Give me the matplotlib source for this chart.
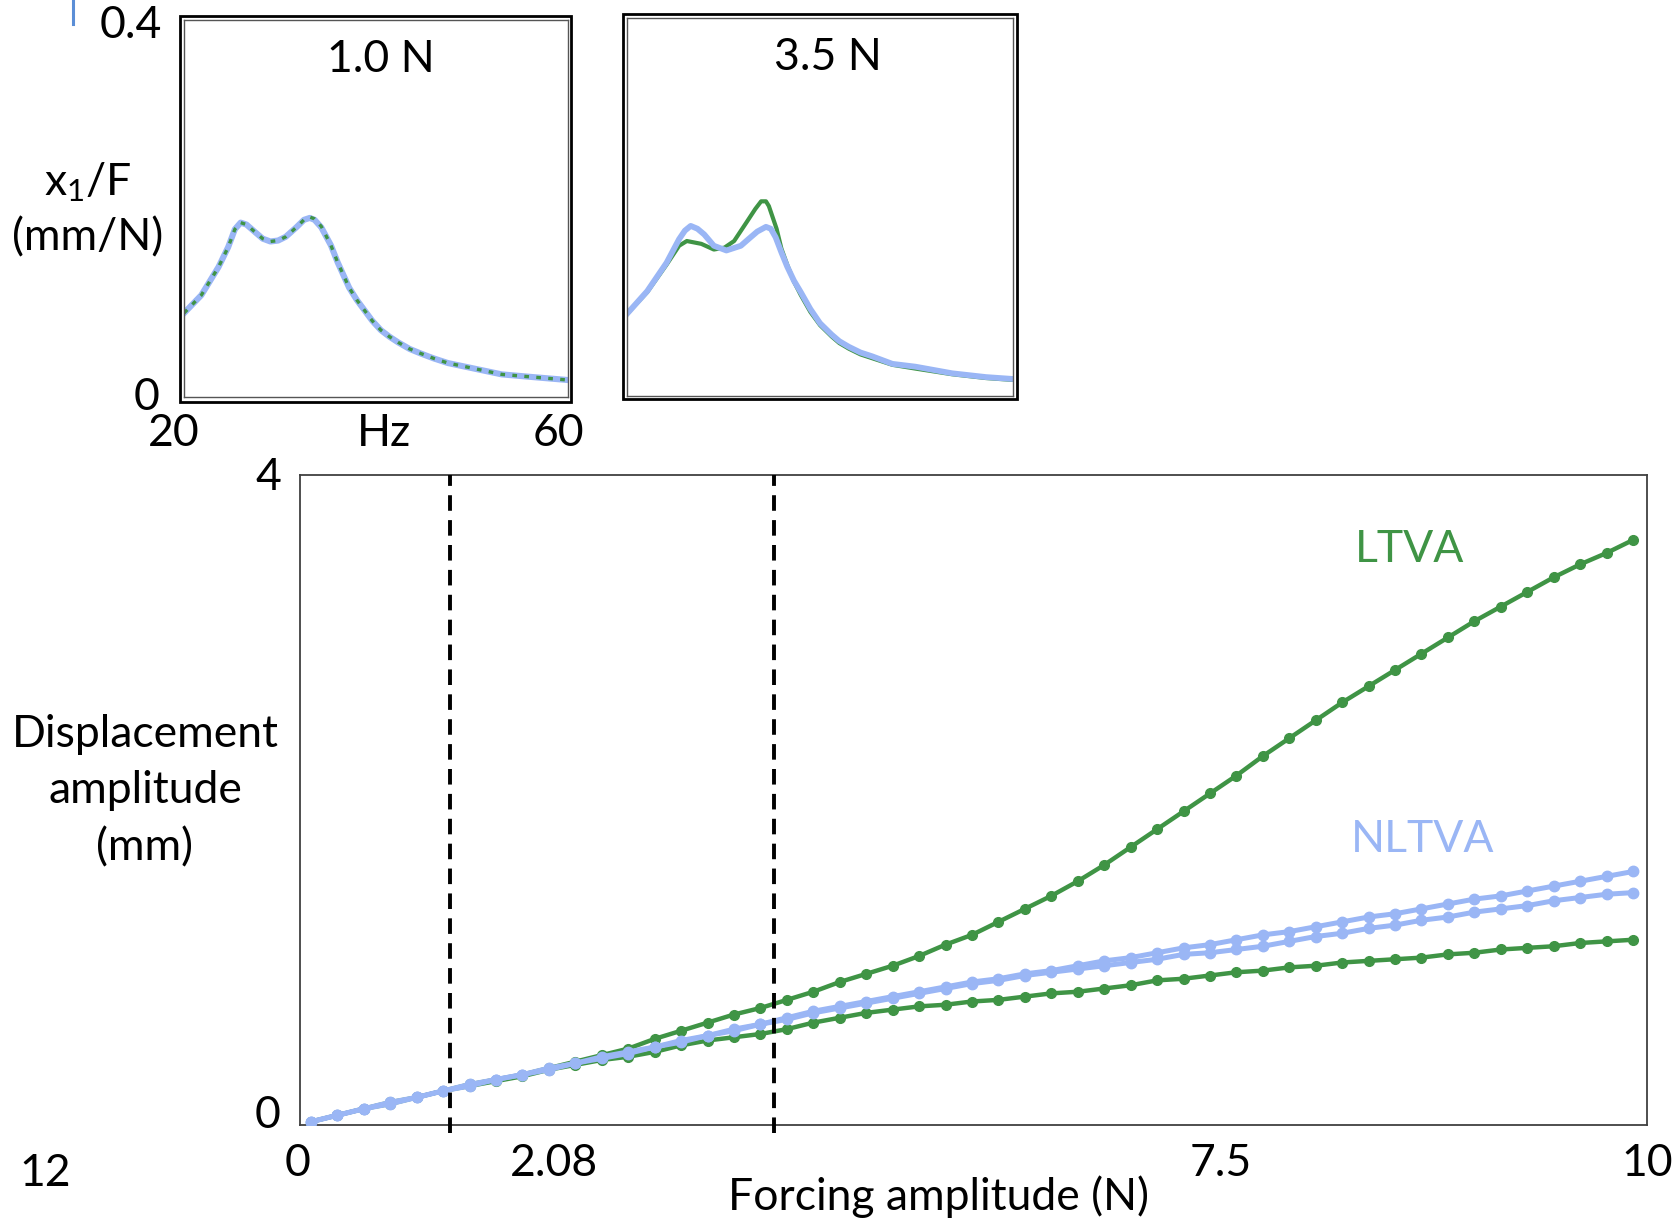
import numpy as np
import matplotlib
matplotlib.use("Agg")
import matplotlib.pyplot as plt
from matplotlib.patches import Rectangle
from matplotlib.lines import Line2D

plt.rcParams["font.family"] = ["Lato", "DejaVu Sans"]
plt.rcParams["mathtext.fontset"] = "custom"
plt.rcParams["mathtext.rm"] = "Lato"
plt.rcParams["mathtext.it"] = "Lato"

# ── data ──────────────────────────────────────────────────────────────────────
# main panel: forcing sweep (N) vs displacement amplitude (mm)
force = [0.0, 0.2, 0.4, 0.6, 0.8, 1.0, 1.2, 1.4, 1.6, 1.8,
         2.0, 2.2, 2.4, 2.6, 2.8, 3.0, 3.2, 3.4, 3.6, 3.8,
         4.0, 4.2, 4.4, 4.6, 4.8, 5.0, 5.2, 5.4, 5.6, 5.8,
         6.0, 6.2, 6.4, 6.6, 6.8, 7.0, 7.2, 7.4, 7.6, 7.8,
         8.0, 8.2, 8.4, 8.6, 8.8, 9.0, 9.2, 9.4, 9.6, 9.8, 10.0]

ltva_up = [0.02, 0.06, 0.10, 0.14, 0.17, 0.21, 0.25, 0.28, 0.31, 0.35,
           0.39, 0.43, 0.47, 0.53, 0.58, 0.63, 0.68, 0.72, 0.77, 0.82,
           0.88, 0.93, 0.98, 1.04, 1.11, 1.17, 1.25, 1.33, 1.41, 1.50,
           1.60, 1.71, 1.82, 1.93, 2.04, 2.15, 2.27, 2.38, 2.49, 2.60,
           2.70, 2.80, 2.90, 3.00, 3.10, 3.19, 3.28, 3.37, 3.45, 3.52, 3.60]

ltva_low = [0.02, 0.06, 0.10, 0.13, 0.17, 0.21, 0.24, 0.27, 0.30, 0.34,
            0.37, 0.40, 0.42, 0.45, 0.49, 0.52, 0.54, 0.56, 0.59, 0.63,
            0.66, 0.69, 0.71, 0.73, 0.74, 0.76, 0.77, 0.79, 0.81, 0.82,
            0.84, 0.86, 0.89, 0.90, 0.92, 0.94, 0.95, 0.97, 0.98, 1.00,
            1.01, 1.02, 1.03, 1.05, 1.06, 1.08, 1.09, 1.10, 1.12, 1.13, 1.14]

nltva_up = [0.02, 0.06, 0.10, 0.14, 0.17, 0.21, 0.25, 0.28, 0.31, 0.35,
            0.38, 0.42, 0.45, 0.48, 0.52, 0.55, 0.59, 0.62, 0.66, 0.70,
            0.73, 0.76, 0.79, 0.82, 0.85, 0.88, 0.90, 0.93, 0.95, 0.98,
            1.01, 1.03, 1.06, 1.09, 1.11, 1.14, 1.17, 1.19, 1.22, 1.25,
            1.28, 1.30, 1.33, 1.36, 1.39, 1.41, 1.44, 1.47, 1.50, 1.53, 1.56]

nltva_low = [0.02, 0.06, 0.10, 0.13, 0.17, 0.21, 0.24, 0.28, 0.31, 0.34,
             0.38, 0.41, 0.44, 0.48, 0.51, 0.55, 0.58, 0.62, 0.65, 0.69,
             0.72, 0.75, 0.78, 0.81, 0.84, 0.87, 0.89, 0.92, 0.94, 0.96,
             0.98, 1.00, 1.02, 1.05, 1.06, 1.08, 1.10, 1.13, 1.16, 1.18,
             1.21, 1.23, 1.26, 1.28, 1.31, 1.33, 1.35, 1.38, 1.40, 1.42, 1.43]

marked_forces = [1.05, 3.5]
xtick_labels  = ["0", "2.08", "7.5", "10"]

# inset 1: frf at 1.0 N (both absorbers coincide)
freq_1N  = [20, 21.8, 23.6, 24.6, 25.3, 25.9, 26.5, 27.4, 28.2, 29.0, 29.8,
            30.6, 31.7, 32.5, 33.1, 33.6, 34.3, 35.3, 36.0, 37.2, 38.0,
            38.8, 39.6, 40.5, 41.4, 42.3, 43.5, 44.7, 46.0, 47.5, 50.3,
            53.1, 56.5, 60]
nltva_1N = [0.089, 0.108, 0.138, 0.159, 0.178, 0.185, 0.183, 0.175, 0.168,
            0.165, 0.166, 0.170, 0.180, 0.188, 0.190, 0.188, 0.180, 0.161,
            0.143, 0.116, 0.103, 0.092, 0.081, 0.071, 0.064, 0.058, 0.051,
            0.046, 0.041, 0.036, 0.030, 0.024, 0.021, 0.018]
ltva_1N  = [0.089, 0.108, 0.138, 0.159, 0.178, 0.185, 0.183, 0.175, 0.168,
            0.165, 0.166, 0.170, 0.180, 0.188, 0.191, 0.189, 0.181, 0.161,
            0.143, 0.116, 0.103, 0.092, 0.081, 0.071, 0.064, 0.058, 0.051,
            0.046, 0.041, 0.036, 0.030, 0.024, 0.021, 0.018]

# inset 2: frf at 3.5 N
freq_nl_35 = [20, 22.1, 24.1, 25.4, 26.0, 26.6, 27.3, 28.0, 29.0, 30.3, 31.8,
              32.7, 33.5, 34.4, 34.9, 35.4, 36.0, 36.6, 37.3, 38.0, 39.0,
              40.0, 41.2, 42.0, 43.0, 44.2, 45.4, 47.5, 49.9, 53.7, 57.2, 60]
nltva_35   = [0.087, 0.111, 0.141, 0.166, 0.175, 0.180, 0.177, 0.171, 0.159,
              0.154, 0.159, 0.167, 0.174, 0.179, 0.177, 0.168, 0.152, 0.137,
              0.122, 0.110, 0.092, 0.077, 0.065, 0.058, 0.052, 0.046, 0.042,
              0.034, 0.031, 0.024, 0.020, 0.018]
freq_l_35  = [20, 22.1, 24.1, 25.4, 26.2, 27.7, 29.0, 30.1, 31.1, 32.4, 33.3,
              33.9, 34.4, 34.7, 35.5, 36.0, 36.6, 37.3, 38.0, 39.0, 40.0,
              41.2, 42.0, 43.0, 44.2, 45.4, 47.5, 49.9, 53.7, 57.2, 60]
ltva_35    = [0.087, 0.110, 0.139, 0.159, 0.164, 0.161, 0.155, 0.157, 0.164,
              0.184, 0.198, 0.206, 0.206, 0.201, 0.177, 0.156, 0.139, 0.121,
              0.107, 0.089, 0.075, 0.063, 0.056, 0.050, 0.044, 0.040, 0.033,
              0.029, 0.023, 0.019, 0.017]

# ── style ─────────────────────────────────────────────────────────────────────
GREEN = "#3f9445"
BLUE  = "#9ab6f5"
FS    = 32
W, H  = 1680, 1222


def fx(x):
    return x / W


def fy(y):
    return 1 - y / H


def box(l, t, r, b):
    return [fx(l), fy(b), fx(r) - fx(l), fy(t) - fy(b)]


fig = plt.figure(figsize=(W / 100, H / 100), dpi=100)

# ── main panel ───────────────────────────────────────────────────────────────
ax = fig.add_axes(box(300, 475, 1647, 1125))
ax.plot(force, ltva_up,  color=GREEN, lw=3.2, marker="o", ms=7, zorder=3)
ax.plot(force, ltva_low, color=GREEN, lw=3.2, marker="o", ms=7, zorder=3)
ax.plot(force, nltva_up,  color=BLUE, lw=3.6, marker="o", ms=7.5, zorder=4)
ax.plot(force, nltva_low, color=BLUE, lw=3.6, marker="o", ms=7.5, zorder=4)

for fm in marked_forces:
    ax.axvline(fm, ymin=-0.012, ymax=1, color="black", lw=2.8,
               linestyle=(0, (4, 2.4)), clip_on=False, zorder=5)

ax.set_xlim(-0.083, 10.106)
ax.set_ylim(0, 4)
ax.set_xticks([])
ax.set_yticks([])
for s in ax.spines.values():
    s.set_color("#404040")
    s.set_linewidth(1.3)

ax.text(8.31, 3.54, "LTVA", color=GREEN, fontsize=FS, ha="center", va="center")
ax.text(8.41, 1.76, "NLTVA", color=BLUE, fontsize=FS, ha="center", va="center")

# tick labels placed as in the figure
for lab, xp in zip(xtick_labels, [298, 554, 1221, 1647]):
    fig.text(fx(xp), fy(1163), lab, fontsize=FS, ha="center", va="center")
fig.text(fx(268), fy(477), "4", fontsize=FS, ha="center", va="center")
fig.text(fx(268), fy(1116), "0", fontsize=FS, ha="center", va="center")
fig.text(fx(939), fy(1197), "Forcing amplitude (N)", fontsize=FS,
         ha="center", va="center")
fig.text(fx(145), fy(791), "Displacement\namplitude\n(mm)", fontsize=FS,
         ha="center", va="center", linespacing=1.48)
fig.text(fx(45), fy(1173), "12", fontsize=FS, ha="center", va="center")
fig.add_artist(Line2D([fx(73), fx(73)], [fy(0), fy(24)], color="#5b8ed6",
                      lw=2.2, transform=fig.transFigure))

# ── insets ───────────────────────────────────────────────────────────────────
def inset(inner, outer):
    a = fig.add_axes(box(*inner))
    a.set_xlim(20, 60)
    a.set_ylim(0, 0.4)
    a.set_xticks([])
    a.set_yticks([])
    for s in a.spines.values():
        s.set_color("#555555")
        s.set_linewidth(1.0)
    l, t, r, b = outer
    fig.add_artist(Rectangle((fx(l), fy(b)), fx(r) - fx(l), fy(t) - fy(b),
                             fill=False, ec="black", lw=2.0,
                             transform=fig.transFigure))
    return a


ax1 = inset((184, 20, 568, 397), (180, 16, 571, 402))
ax1.plot(freq_1N, nltva_1N, color=BLUE, lw=4.4, solid_joinstyle="round")
ax1.plot(freq_1N, ltva_1N, color=GREEN, lw=2.4, linestyle=(0, (1.4, 2.2)))
ax1.text(40.5, 0.358, "1.0 N", fontsize=FS, ha="center", va="center")

ax2 = inset((627, 18, 1013, 396), (623, 14, 1017, 399))
ax2.plot(freq_l_35, ltva_35, color=GREEN, lw=3.0, solid_joinstyle="round")
ax2.plot(freq_nl_35, nltva_35, color=BLUE, lw=4.2, solid_joinstyle="round")
ax2.text(40.8, 0.358, "3.5 N", fontsize=FS, ha="center", va="center")

fig.text(fx(131), fy(26), "0.4", fontsize=FS, ha="center", va="center")
fig.text(fx(147), fy(398), "0", fontsize=FS, ha="center", va="center")
fig.text(fx(174), fy(434), "20", fontsize=FS, ha="center", va="center")
fig.text(fx(384), fy(434), "Hz", fontsize=FS, ha="center", va="center")
fig.text(fx(558), fy(434), "60", fontsize=FS, ha="center", va="center")
fig.text(fx(88), fy(182), r"x$_{1}$/F", fontsize=FS, ha="center", va="center")
fig.text(fx(88), fy(238), "(mm/N)", fontsize=FS, ha="center", va="center")

fig.savefig("out.png", dpi=100)
